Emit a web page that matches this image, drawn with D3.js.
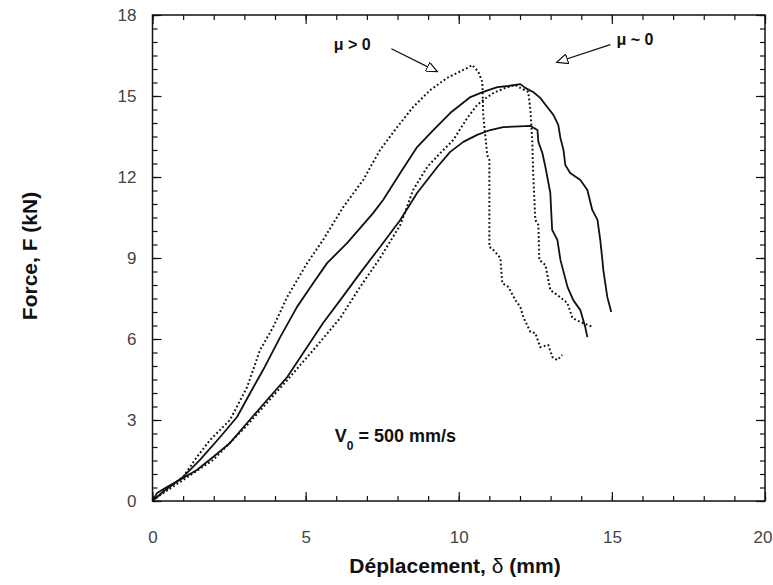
<!DOCTYPE html>
<html><head><meta charset="utf-8">
<script src="https://cdn.jsdelivr.net/npm/d3@7"></script>
<style>
body{margin:0;background:#fff;}
svg{display:block;font-family:"Liberation Sans",Arial,sans-serif;}
</style></head>
<body>
<script>
// ---- data (displacement mm, force kN) ----
const xTicks = [0, 5, 10, 15, 20];
const yTicks = [0, 3, 6, 9, 12, 15, 18];

// mu > 0, upper dotted
const dotA_x = [0,0.15,0.57,1.0,1.45,1.88,2.53,3.09,3.51,3.94,4.4,5.05,5.57,6.23,6.88,7.43,7.99,8.51,9.07,9.62,10.28,10.44,10.64,10.77,10.8,10.93,11.0,11.0,11.13,11.36,11.42,11.62,11.85,12.01,12.11,12.34,12.5,12.66,12.92,13.06,13.22,13.38];
const dotA_F = [0.1,0.15,0.52,0.89,1.63,2.26,3.0,4.22,5.59,6.44,7.56,8.81,9.67,10.89,11.89,13.0,13.85,14.59,15.22,15.67,16.04,16.15,15.89,15.52,14.3,12.81,12.63,9.41,9.3,9.0,8.07,7.93,7.44,7.19,6.81,6.26,6.22,5.7,5.78,5.33,5.22,5.41];

// mu > 0, lower dotted
const dotB_x = [0,0.25,1.0,1.98,3.09,4.4,5.25,6.13,6.78,7.43,8.09,8.51,8.97,9.4,9.82,10.28,10.6,10.93,11.13,11.52,11.85,12.01,12.27,12.34,12.4,12.43,12.5,12.6,12.63,12.83,12.99,13.22,13.55,13.71,13.97,14.4];
const dotB_F = [0,0.22,0.78,1.52,2.81,4.48,5.59,6.78,7.93,9.0,10.22,11.52,12.37,12.89,13.37,14.19,14.67,14.96,15.11,15.3,15.41,15.3,15.15,14.48,13.37,12.15,10.41,10.22,8.93,8.74,7.81,7.63,7.33,6.78,6.63,6.44];

// mu ~ 0, upper solid
const solC_x = [0,0.41,1.0,1.55,2.21,2.76,3.19,3.61,4.17,4.72,5.25,5.7,6.36,7.21,7.53,8.09,8.64,9.17,9.72,10.38,10.8,11.26,11.62,12.01,12.17,12.43,12.66,12.89,13.09,13.25,13.32,13.42,13.48,13.64,13.97,14.2,14.36,14.53,14.62,14.69,14.72,14.85,14.98];
const solC_F = [0,0.41,0.89,1.52,2.37,3.11,4.0,4.85,6.07,7.19,8.07,8.81,9.56,10.67,11.15,12.15,13.11,13.74,14.37,14.96,15.15,15.33,15.37,15.44,15.3,15.15,14.93,14.59,14.3,13.93,13.44,13.0,12.44,12.15,11.89,11.52,10.78,10.41,9.67,8.93,8.56,7.56,7.0];

// mu ~ 0, lower solid
const solD_x = [0,0.15,0.47,1.0,1.45,1.98,2.53,3.09,3.74,4.4,5.05,5.57,6.13,6.78,7.43,8.09,8.64,9.3,9.72,10.15,10.6,11.03,11.45,12.34,12.57,12.6,12.73,12.83,12.99,13.05,13.22,13.32,13.55,13.74,13.97,14.13,14.2];
const solD_F = [0,0.3,0.52,0.85,1.15,1.63,2.15,2.89,3.74,4.59,5.7,6.59,7.44,8.44,9.41,10.41,11.41,12.37,12.93,13.3,13.56,13.74,13.85,13.89,13.74,13.3,12.89,12.37,11.41,10.04,9.67,8.93,7.93,7.44,7.07,6.44,6.07];

const W = 773, H = 585;
const svg = d3.select("body").append("svg").attr("width", W).attr("height", H);
const x = d3.scaleLinear().domain([0, 20]).range([152.5, 765]);
const y = d3.scaleLinear().domain([0, 18]).range([501, 15]);

// frame
svg.append("rect").attr("x", x(0)).attr("y", y(18))
  .attr("width", x(20) - x(0)).attr("height", y(0) - y(18))
  .attr("fill", "none").attr("stroke", "#111").attr("stroke-width", 1.5);

function ticks(axisGen, transform) {
  const g = svg.append("g").attr("transform", transform).call(axisGen);
  g.select(".domain").remove();
  g.selectAll("line").attr("stroke", "#111").attr("stroke-width", 1.2);
  return g;
}
const xMinor = d3.range(0, 20.01, 1);
const yMinor = d3.range(0, 18.01, 0.5);
// bottom
ticks(d3.axisBottom(x).tickValues(xMinor).tickSizeInner(-5).tickSizeOuter(0).tickFormat(""), `translate(0,${y(0)})`);
const bx = ticks(d3.axisBottom(x).tickValues(xTicks).tickSizeInner(-9).tickSizeOuter(0).tickPadding(30), `translate(0,${y(0)})`);
// top
ticks(d3.axisTop(x).tickValues(xMinor).tickSizeInner(-5).tickSizeOuter(0).tickFormat(""), `translate(0,${y(18)})`);
ticks(d3.axisTop(x).tickValues(xTicks).tickSizeInner(-9).tickSizeOuter(0).tickFormat(""), `translate(0,${y(18)})`);
// left
ticks(d3.axisLeft(y).tickValues(yMinor).tickSizeInner(-5).tickSizeOuter(0).tickFormat(""), `translate(${x(0)},0)`);
const ly = ticks(d3.axisLeft(y).tickValues(yTicks).tickSizeInner(-9).tickSizeOuter(0).tickPadding(16), `translate(${x(0)},0)`);
// right
ticks(d3.axisRight(y).tickValues(yMinor).tickSizeInner(-5).tickSizeOuter(0).tickFormat(""), `translate(${x(20)},0)`);
ticks(d3.axisRight(y).tickValues(yTicks).tickSizeInner(-9).tickSizeOuter(0).tickFormat(""), `translate(${x(20)},0)`);

[bx, ly].forEach(g => g.selectAll("text")
  .attr("font-family", "Liberation Sans, Arial, sans-serif")
  .attr("font-size", 17).attr("fill", "#444"));
// keep the last x label inside the page
bx.selectAll("text").filter(d => d === 20).attr("text-anchor", "end").attr("x", 7);

// curves
const line = d3.line().x(d => x(d[0])).y(d => y(d[1])).curve(d3.curveLinear);
const zip = (a, b) => a.map((v, i) => [v, b[i]]);
const series = [
  {d: zip(solD_x, solD_F), dash: null, w: 1.8},
  {d: zip(solC_x, solC_F), dash: null, w: 1.8},
  {d: zip(dotB_x, dotB_F), dash: "1.8,2.4", w: 2},
  {d: zip(dotA_x, dotA_F), dash: "1.8,2.4", w: 2},
];
series.forEach(s => {
  svg.append("path").attr("d", line(s.d)).attr("fill", "none")
    .attr("stroke", "#111").attr("stroke-width", s.w)
    .attr("stroke-linejoin", "round")
    .attr("stroke-dasharray", s.dash);
});

// arrow marker (open triangle)
svg.append("defs").append("marker").attr("id", "arr")
  .attr("viewBox", "0 0 12 10").attr("refX", 11).attr("refY", 5)
  .attr("markerWidth", 13).attr("markerHeight", 10)
  .attr("markerUnits", "userSpaceOnUse").attr("orient", "auto")
  .append("path").attr("d", "M0,0 L11,5 L0,10 Z")
  .attr("fill", "#fff").attr("stroke", "#111").attr("stroke-width", 1.2);

// annotations (data coordinates)
const ann = [
  {t: "\u03bc > 0", tx: 6.52, tf: 16.9, anchor: "middle", ax0: 7.8, af0: 16.75, ax1: 9.3, af1: 15.9},
  {t: "\u03bc ~ 0", tx: 15.15, tf: 17.1, anchor: "start", ax0: 14.95, af0: 16.9, ax1: 13.2, af1: 16.25},
];
ann.forEach(a => {
  svg.append("text").attr("x", x(a.tx)).attr("y", y(a.tf)).attr("dy", "0.35em")
    .attr("text-anchor", a.anchor).attr("font-size", 16).attr("font-weight", "bold")
    .attr("fill", "#111").text(a.t);
  svg.append("line").attr("x1", x(a.ax0)).attr("y1", y(a.af0))
    .attr("x2", x(a.ax1)).attr("y2", y(a.af1))
    .attr("stroke", "#111").attr("stroke-width", 1.3).attr("marker-end", "url(#arr)");
});

// V0 label
const v = svg.append("text").attr("x", x(5.95)).attr("y", y(2.2))
  .attr("font-size", 18).attr("font-weight", "bold").attr("fill", "#111");
v.append("tspan").text("V");
v.append("tspan").attr("font-size", 12).attr("dy", 8).text("0");
v.append("tspan").attr("dy", -8).text(" = 500 mm/s");

// axis titles
const xt = svg.append("text").attr("x", 455).attr("y", 573).attr("text-anchor", "middle")
  .attr("font-size", 21).attr("font-weight", "bold").attr("fill", "#111");
xt.append("tspan").text("D\u00e9placement,  ");
xt.append("tspan").attr("font-weight", "normal").text("\u03b4");
xt.append("tspan").text(" (mm)");

svg.append("text").attr("transform", "translate(37,256) rotate(-90)")
  .attr("text-anchor", "middle").attr("font-size", 21).attr("font-weight", "bold")
  .attr("fill", "#111").text("Force,  F (kN)");
</script>
</body></html>
